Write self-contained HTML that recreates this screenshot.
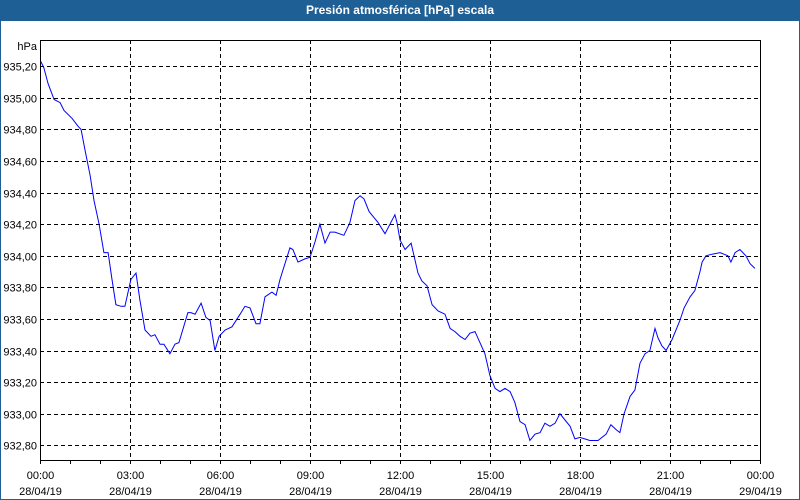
<!DOCTYPE html>
<html><head><meta charset="utf-8"><style>
body{margin:0;width:800px;height:500px;overflow:hidden;background:#fff;font-family:"Liberation Sans",sans-serif}
#frame{position:absolute;left:0;top:0;width:798px;height:499px;border:1px solid #1e5f96;border-top:none}
#title{position:absolute;left:0;top:0;width:800px;height:21px;background:#1e5f96;color:#fff;font-weight:bold;font-size:12px;text-align:center;line-height:21px}
</style></head><body>
<div id="frame"></div>
<div id="title">Presión atmosférica [hPa] escala</div>
<svg id="chart" width="800" height="500" style="position:absolute;left:0;top:0"></svg>
<script>
const hours=[0.03,0.13,0.27,0.47,0.67,0.8,1.07,1.27,1.37,1.5,1.67,1.8,1.97,2.13,2.27,2.4,2.53,2.7,2.83,3.03,3.2,3.33,3.5,3.7,3.83,4,4.13,4.33,4.5,4.63,4.93,5.03,5.17,5.37,5.53,5.67,5.83,5.97,6.17,6.4,6.67,6.83,7,7.2,7.33,7.5,7.73,7.87,8,8.33,8.43,8.6,8.83,9,9.17,9.33,9.5,9.67,9.83,10.13,10.33,10.5,10.67,10.8,10.97,11.27,11.5,11.83,11.9,12,12.17,12.37,12.6,12.73,12.9,13.07,13.27,13.5,13.67,13.83,14,14.17,14.33,14.5,14.83,15,15.17,15.33,15.5,15.67,15.83,16,16.17,16.33,16.5,16.67,16.83,17,17.17,17.33,17.5,17.67,17.83,18,18.33,18.6,18.87,19.03,19.2,19.33,19.47,19.67,19.83,20,20.17,20.33,20.5,20.6,20.73,20.87,21.07,21.33,21.47,21.67,21.83,22,22.07,22.2,22.4,22.67,22.93,23.03,23.17,23.33,23.53,23.67,23.83];
const pressure=[935.23,935.19,935.09,934.99,934.97,934.92,934.87,934.82,934.80,934.67,934.51,934.35,934.20,934.02,934.02,933.85,933.69,933.68,933.68,933.85,933.89,933.72,933.53,933.49,933.50,933.44,933.44,933.38,933.44,933.45,933.64,933.64,933.63,933.70,933.61,933.59,933.40,933.49,933.53,933.55,933.63,933.68,933.67,933.57,933.57,933.74,933.77,933.75,933.85,934.05,934.04,933.96,933.98,933.99,934.09,934.20,934.08,934.15,934.15,934.13,934.21,934.35,934.38,934.36,934.28,934.21,934.14,934.26,934.21,934.10,934.04,934.08,933.89,933.84,933.81,933.69,933.65,933.63,933.54,933.52,933.49,933.47,933.51,933.52,933.38,933.24,933.16,933.14,933.16,933.14,933.07,932.95,932.93,932.83,932.87,932.88,932.94,932.92,932.94,933.00,932.96,932.92,932.84,932.85,932.83,932.83,932.87,932.93,932.90,932.88,933.00,933.11,933.15,933.32,933.38,933.40,933.54,933.48,933.43,933.40,933.47,933.59,933.67,933.74,933.78,933.90,933.96,934.00,934.01,934.02,934.00,933.96,934.02,934.04,934.00,933.95,933.92];
const yTicks=[935.2,935.0,934.8,934.6,934.4,934.2,934.0,933.8,933.6,933.4,933.2,933.0,932.8];
const xTickHours=[0,3,6,9,12,15,18,21,24];
const xTimeLabels=["00:00","03:00","06:00","09:00","12:00","15:00","18:00","21:00","00:00"];
const xDateLabels=["28/04/19","28/04/19","28/04/19","28/04/19","28/04/19","28/04/19","28/04/19","28/04/19","29/04/19"];
const L=40,R=760,T=40,B=460;
const xs=h=>L+h*(R-L)/24;
const ys=v=>66.3+(935.2-v)*31.58/0.2;
const svg=document.getElementById('chart');
const NS='http://www.w3.org/2000/svg';
function mk(tag,attrs){const e=document.createElementNS(NS,tag);for(const k in attrs)e.setAttribute(k,attrs[k]);svg.appendChild(e);return e;}
yTicks.forEach(v=>{
  const y=Math.round(ys(v))+0.5;
  const g=mk('line',{x1:L,x2:R,y1:y,y2:y,stroke:'#000','stroke-dasharray':'4,3'});
  
  
  const t=mk('text',{x:37,y:y+4,'text-anchor':'end','font-size':'11','fill':'#000'});
  t.textContent=v.toFixed(2).replace('.',',');
  
  
});
xTickHours.forEach((h,i)=>{
  const x=Math.round(xs(h))+0.5;
  if(i>0&&i<xTickHours.length-1){
    const g=mk('line',{x1:x,x2:x,y1:T,y2:B,stroke:'#000','stroke-dasharray':'4,3'});
    
    
  }
  const t1=mk('text',{x:x,y:479,'text-anchor':'middle','font-size':'11','fill':'#000'});
  t1.textContent=xTimeLabels[i];
  
  
  const t2=mk('text',{x:x,y:495,'text-anchor':'middle','font-size':'11','fill':'#000'});
  t2.textContent=xDateLabels[i];
  
  
});
for(let h=0;h<=24;h++){
  const x=Math.round(xs(h))+0.5;
  const tk=mk('line',{x1:x,x2:x,y1:B,y2:B+4,stroke:'#000'});
  
  
}
const ax=mk('polyline',{points:`${L+0.5},${T} ${L+0.5},${B+0.5} ${R+0.5},${B+0.5} ${R+0.5},${T}`,fill:'none',stroke:'#000'});


const ax2=mk('line',{x1:L,x2:R,y1:T+0.5,y2:T+0.5,stroke:'#000'});


const unit=mk('text',{x:37,y:50,'text-anchor':'end','font-size':'11','fill':'#000'});
unit.textContent='hPa';


const pts=hours.map((h,i)=>xs(h).toFixed(1)+','+ys(pressure[i]).toFixed(1)).join(' ');
const line=mk('polyline',{points:pts,fill:'none',stroke:'#0000ff','stroke-width':'1'});


</script>
</body></html>
